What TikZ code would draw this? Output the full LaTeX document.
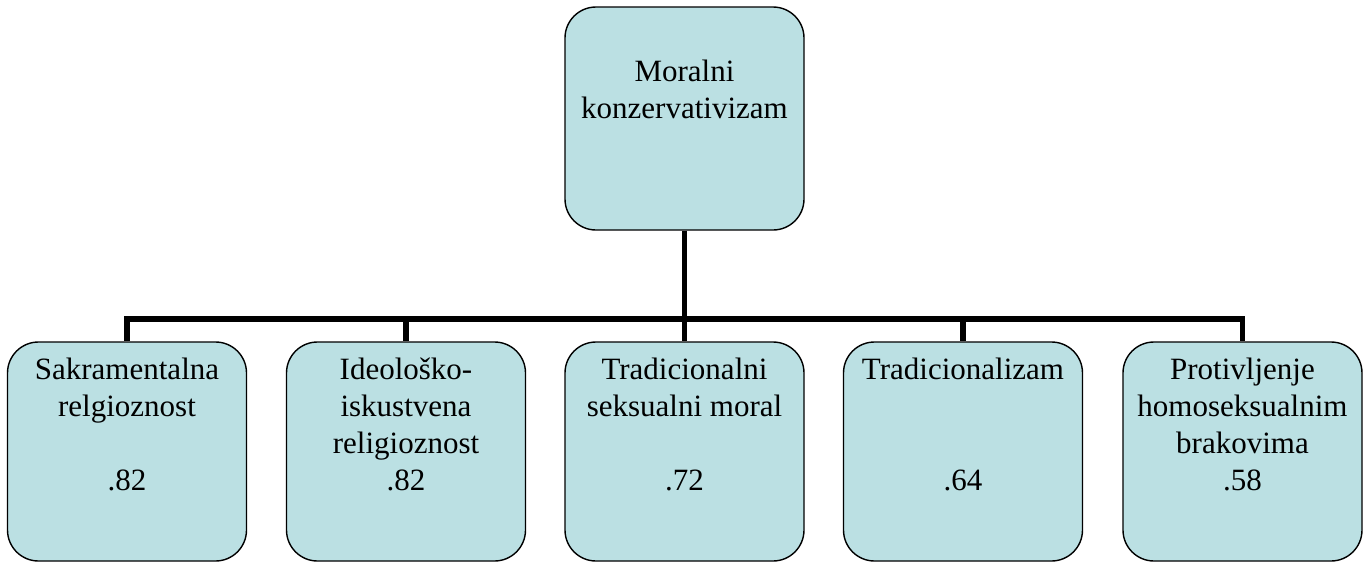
\documentclass[tikz,border=0pt]{standalone}
\usepackage{fontspec}
\setmainfont{Liberation Serif}
\usetikzlibrary{positioning, calc}
\definecolor{boxblue}{RGB}{187, 224, 227}

\begin{document}
\begin{tikzpicture}[x=0.5pt, y=-0.5pt]
                \tikzstyle{factor} = [draw=black, line width=0.7pt, fill=boxblue, rounded corners=15.5pt, minimum width=119.5pt, inner sep=0pt]
                \tikzstyle{lbl} = [anchor=north, align=center, inner sep=0pt, font=\fontsize{15.5}{18.5}\selectfont, execute at begin node=\strut]
                \tikzstyle{conn} = [draw, line width=2.6pt, black]
                \useasboundingbox (0,0) rectangle (1372,563);

                % latent factor
                \node[factor, minimum height=111.5pt] (root) at (684.5,118.5) {};
                \node[lbl] (troot) at ([yshift=-26.5pt]root.north) {Moralni\\konzervativizam};

                % indicators
                \node[factor, minimum height=109.5pt] (b1) at (127,451.5) {};
                \node[factor, minimum height=109.5pt] (b2) at (406,451.5) {};
                \node[factor, minimum height=109.5pt] (b3) at (684.5,451.5) {};
                \node[factor, minimum height=109.5pt] (b4) at (963,451.5) {};
                \node[factor, minimum height=109.5pt] (b5) at (1242.5,451.5) {};

                \node[lbl] (t1) at ([yshift=-8pt]b1.north) {Sakramentalna\\relgioznost\\\mbox{}\\.82};
                \node[lbl] (t2) at ([yshift=-8pt]b2.north) {Ideološko-\\iskustvena\\religioznost\\.82};
                \node[lbl] (t3) at ([yshift=-8pt]b3.north) {Tradicionalni\\seksualni moral\\\mbox{}\\.72};
                \node[lbl] (t4) at ([yshift=-8pt]b4.north) {Tradicionalizam\\\mbox{}\\\mbox{}\\.64};
                \node[lbl] (t5) at ([yshift=-8pt]b5.north) {Protivljenje\\homoseksualnim\\brakovima\\.58};

                \coordinate (hub) at (684.5,319);
                \draw[conn] (root.south) -- (hub);
                \draw[conn] (hub) -| (b1.north);
                \draw[conn] (hub) -| (b2.north);
                \draw[conn] (hub) -- (b3.north);
                \draw[conn] (hub) -| (b4.north);
                \draw[conn] (hub) -| (b5.north);
            \end{tikzpicture}
\end{document}
